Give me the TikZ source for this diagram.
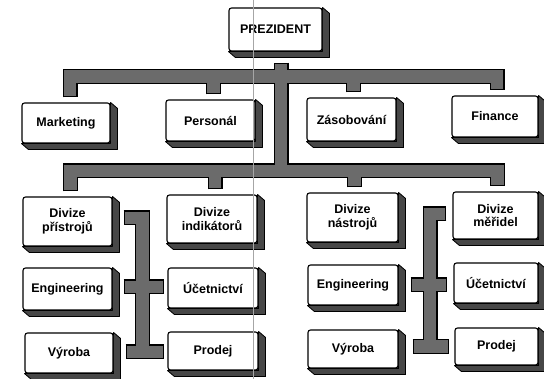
\documentclass[tikz,border=0pt]{standalone}
\usepackage{fontspec}
\setmainfont{Liberation Sans}
\usetikzlibrary{calc}
\pgfdeclarelayer{back}
\pgfsetlayers{back,main}
\tikzset{
  box/.style={draw=black, line width=1.1pt, fill=white, rounded corners=2.5pt,
    inner sep=1pt, align=center, font=\bfseries\fontsize{12.5}{13.5}\selectfont},
  side/.style={fill=black!72, draw=black, line width=0.8pt, line join=round},
  barout/.style={draw=black, line width=15pt, line join=miter},
  barin/.style={draw=black!58, line width=12.6pt, line join=miter,
    shorten <=1.2pt, shorten >=1.2pt},
  fold/.style={draw=black!35, line width=0.7pt},
}
% oblique depth (right side and bottom) of a box node
\newcommand\extrude[1]{%
  \begin{pgfonlayer}{back}
    \path[side] (#1.north east) -- ++(7,6) -- ($(#1.south east)+(7,6)$)
      -- ($(#1.south west)+(7,6)$) -- (#1.south west) -- (#1.south east) -- cycle;
  \end{pgfonlayer}}
% all thick connector bars; drawn twice (outline, then core)
\newcommand\orgbars[1]{%
  \draw[#1] (pT) -- (pT |- lower);
  \draw[#1] (mkT) -- (mkT |- upper) -- (fiT |- upper) -- (fiT);
  \draw[#1] (peT) -- (peT |- upper);
  \draw[#1] (zaT) -- (zaT |- upper);
  \draw[#1] (dpT) -- (dpT |- lower) -- (dmT |- lower) -- (dmT);
  \draw[#1] (diT) -- (diT |- lower);
  \draw[#1] (dnT) -- (dnT |- lower);
  % left group
  \draw[#1] (dpR) -- (dpR -| lvert) -- (lvert |- vyAR);
  \draw[#1] (egAR) -- (egAR -| ucBL);
  \draw[#1] (vyAR) -- (vyAR -| prBL);
  % right group
  \draw[#1] (dmL) -- (dmL -| rvert) -- (rvert |- vyCR);
  \draw[#1] (egCR) -- (egCR -| ucDL);
  \draw[#1] (vyCR) -- (vyCR -| prDL);
}
\begin{document}
\begin{tikzpicture}[x=1pt,y=-1pt]
\useasboundingbox (0,0) rectangle (544,379);
\clip (0,0) rectangle (544,379);

% boxes
\node[box, minimum width=93pt, minimum height=43pt] (pres) at (275.5,29.5) {PREZIDENT};
\node[box, minimum width=88pt, minimum height=40pt] (mkt) at (66,123) {Marketing};
\node[box, minimum width=89pt, minimum height=41pt] (per) at (210.5,120.5) {Personál};
\node[box, minimum width=89pt, minimum height=43pt] (zas) at (351.5,119.5) {Zásobování};
\node[box, minimum width=86pt, minimum height=41pt] (fin) at (495,116.5) {Finance};

\node[box, minimum width=89pt, minimum height=49pt] (dp) at (67.5,221.5) {Divize\\přístrojů};
\node[box, minimum width=90pt, minimum height=48pt] (di) at (212,219) {Divize\\indikátorů};
\node[box, minimum width=91pt, minimum height=49pt] (dn) at (352.5,217.5) {Divize\\nástrojů};
\node[box, minimum width=85pt, minimum height=47pt] (dm) at (495.5,215.5) {Divize\\měřidel};

\node[box, minimum width=89pt, minimum height=42pt] (engA) at (67.5,289) {Engineering};
\node[box, minimum width=90pt, minimum height=40pt] (ucB) at (213,288) {Účetnictví};
\node[box, minimum width=90pt, minimum height=40pt] (engC) at (353,285) {Engineering};
\node[box, minimum width=84pt, minimum height=40pt] (ucD) at (496,283) {Účetnictví};

\node[box, minimum width=88pt, minimum height=40pt] (vyA) at (69,353) {Výroba};
\node[box, minimum width=90pt, minimum height=38pt] (prB) at (213,351) {Prodej};
\node[box, minimum width=90pt, minimum height=38pt] (vyC) at (353,349) {Výroba};
\node[box, minimum width=83pt, minimum height=37pt] (prD) at (496.5,346.5) {Prodej};

\foreach \n in {pres,mkt,per,zas,fin,dp,di,dn,dm,engA,ucB,engC,ucD,vyA,prB,vyC,prD}
  {\extrude{\n}}

% bar levels and ends
\coordinate (upper) at (0,76.5);
\coordinate (lower) at (0,171);
\coordinate (lvert) at (142.5,0);
\coordinate (rvert) at (430,0);

\coordinate (pT)  at ($(pres.south)+(5.5,11)$);
\coordinate (mkT) at ($(mkt.north)+(4,-5)$);
\coordinate (peT) at ($(per.north)+(3,-5)$);
\coordinate (zaT) at ($(zas.north)+(2,-5)$);
\coordinate (fiT) at ($(fin.north)+(2,-5)$);
\coordinate (dpT) at ($(dp.north)+(3,-5)$);
\coordinate (diT) at ($(di.north)+(3,-5)$);
\coordinate (dnT) at ($(dn.north)+(2,-5)$);
\coordinate (dmT) at ($(dm.north)+(2,-5)$);

\coordinate (dpR)  at ($(dp.east)+(11,-3.5)$);
\coordinate (egAR) at ($(engA.east)+(11,-2)$);
\coordinate (ucBL) at ($(ucB.west)+(-3,0)$);
\coordinate (vyAR) at ($(vyA.east)+(12,-1)$);
\coordinate (prBL) at ($(prB.west)+(-3,0)$);

\coordinate (dmL)  at ($(dm.west)+(-6,-1.5)$);
\coordinate (egCR) at ($(engC.east)+(12,0)$);
\coordinate (ucDL) at ($(ucD.west)+(-6,0)$);
\coordinate (vyCR) at ($(vyC.east)+(14,-2.5)$);
\coordinate (prDL) at ($(prD.west)+(-5,0)$);

\orgbars{barout}
\orgbars{barin}

% crease line running down the sheet
\draw[fold] (253,0) -- (253,379);
\end{tikzpicture}
\end{document}
